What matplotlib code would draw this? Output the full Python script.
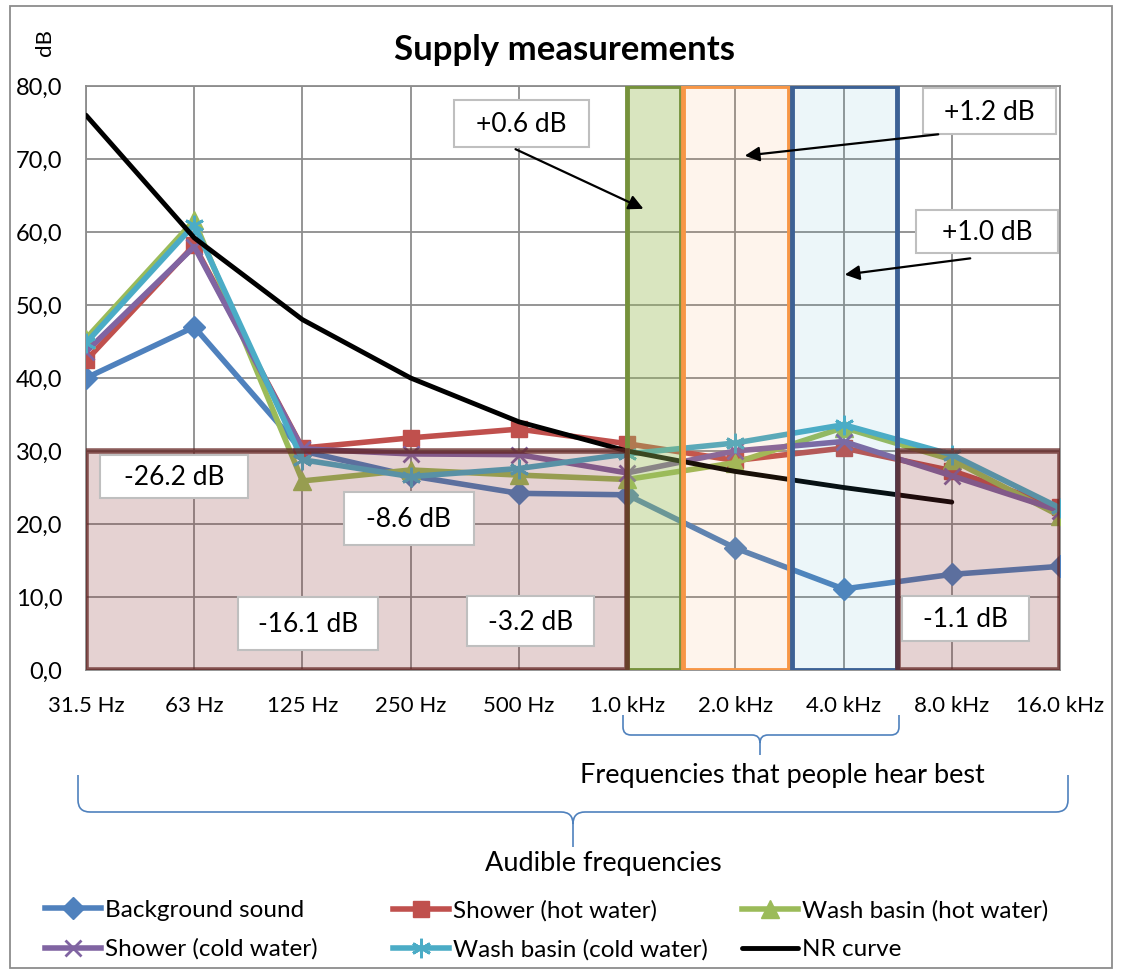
import matplotlib
matplotlib.use("Agg")
import matplotlib.pyplot as plt
from matplotlib.patches import Rectangle, PathPatch, FancyArrowPatch
from matplotlib.path import Path

plt.rcParams['font.family'] = ['Lato', 'DejaVu Sans']

W, H = 1122, 969

# data
freqs = ["31.5 Hz", "63 Hz", "125 Hz", "250 Hz", "500 Hz", "1.0 kHz", "2.0 kHz", "4.0 kHz", "8.0 kHz", "16.0 kHz"]
background = [40.0, 47.0, 30.0, 26.6, 24.2, 24.0, 16.7, 11.1, 13.1, 14.2]
shower_hot = [42.4, 58.2, 30.4, 31.8, 33.0, 31.0, 28.7, 30.4, 27.3, 22.3]
wash_hot = [45.4, 61.6, 25.9, 27.4, 26.7, 26.1, 28.4, 33.2, 28.8, 21.1]
shower_cold = [43.6, 58.0, 30.3, 29.6, 29.5, 27.0, 30.0, 31.3, 26.6, 21.8]
wash_cold = [44.8, 61.0, 28.8, 26.5, 27.6, 29.6, 31.1, 33.6, 29.5, 22.2]
nr_curve = [76.0, 59.2, 48.0, 40.0, 34.0, 30.0, 27.2, 25.0, 23.0]

# regions (x in category index, y in dB)
reduce_regions = [(0, 5, 30), (7.5, 9, 30)]
reduce_labels = ["-26.2 dB", "-8.6 dB", "-16.1 dB", "-3.2 dB", "-1.1 dB"]
gain_labels = ["+0.6 dB", "+1.2 dB", "+1.0 dB"]


def fx(x):
    return x / W


def fy(y):
    return 1 - y / H


fig = plt.figure(figsize=(W / 100, H / 100), dpi=100)
ax = fig.add_axes([fx(86), fy(670), fx(1060) - fx(86), fy(86) - fy(670)])

xs = list(range(len(freqs)))
series = [
    (background, "Background sound", "#4F81BD", "D", 11, dict()),
    (shower_hot, "Shower (hot water)", "#C0504D", "s", 12, dict()),
    (wash_hot, "Wash basin (hot water)", "#9BBB59", "^", 13, dict()),
    (shower_cold, "Shower (cold water)", "#8064A2", "x", 12, dict(markeredgewidth=2)),
    (wash_cold, "Wash basin (cold water)", "#4BACC6", (6, 2, 0), 14, dict(markeredgewidth=2)),
]
handles = {}
for vals, name, col, mk, ms, kw in series:
    ln, = ax.plot(xs, vals, color=col, lw=4, marker=mk, ms=ms, mfc=col, mec=col, label=name, zorder=3, **kw)
    handles[name] = ln

nr, = ax.plot(xs[:len(nr_curve)], nr_curve, color="black", lw=3.5, label="NR curve", zorder=4,
              solid_capstyle="round")
handles["NR curve"] = nr

ax.set_xlim(0, 9)
ax.set_ylim(0, 80)
ax.set_xticks(xs)
ax.set_xticklabels(freqs, fontsize=16)
ax.set_yticks(range(0, 81, 10))
ax.set_yticklabels([f"{v:.1f}".replace(".", ",") for v in range(0, 81, 10)], fontsize=17)
ax.tick_params(length=0)
ax.tick_params(axis="x", pad=19)
ax.tick_params(axis="y", pad=17)
ax.grid(True, color="#8C8C8C", lw=1.3, zorder=1)
for s in ax.spines.values():
    s.set_color("#8C8C8C")
    s.set_linewidth(1.3)

# highlighted frequency bands (drawn over the lines)
ax.add_patch(Rectangle((5, 0), 0.5, 80, facecolor="#9BBB59", alpha=0.38, edgecolor="none", zorder=5))
ax.add_patch(Rectangle((5, 0), 0.5, 80, facecolor="none", edgecolor="#76923C", lw=3.5, zorder=6))
ax.add_patch(Rectangle((5.52, 0), 0.98, 80, facecolor="#F79646", alpha=0.1, edgecolor="none", zorder=5))
ax.add_patch(Rectangle((5.52, 0), 0.98, 80, facecolor="none", edgecolor="#F79646", lw=3.5, zorder=6))
ax.add_patch(Rectangle((6.52, 0), 0.97, 80, facecolor="#4BACC6", alpha=0.1, edgecolor="none", zorder=5))
ax.add_patch(Rectangle((6.52, 0), 0.97, 80, facecolor="none", edgecolor="#3C6195", lw=3.5, zorder=6))
for x0, x1, top in reduce_regions:
    ax.add_patch(Rectangle((x0, 0), x1 - x0, top, facecolor="#8B3333", alpha=0.22, edgecolor="none", zorder=5))
    ax.add_patch(Rectangle((x0, 0), x1 - x0, top, facecolor="none", edgecolor="#632523", alpha=0.75,
                           lw=4, zorder=6))


def box(x0, y0, x1, y1, text):
    fig.patches.append(Rectangle((fx(x0), fy(y1)), fx(x1) - fx(x0), fy(y0) - fy(y1), transform=fig.transFigure,
                                 facecolor="white", edgecolor="#BFBFBF", lw=1.5, zorder=10))
    fig.text(fx((x0 + x1) / 2), fy((y0 + y1) / 2 + 1), text, ha="center", va="center", fontsize=19, zorder=11)


def arrow(x0, y0, x1, y1):
    fig.add_artist(FancyArrowPatch((fx(x0), fy(y0)), (fx(x1), fy(y1)), transform=fig.transFigure,
                                   arrowstyle="-|>", mutation_scale=22, color="black", lw=1.6, zorder=12))


box(454, 100, 589, 147, gain_labels[0])
arrow(513, 148, 646, 210)
box(923, 88, 1056, 134, gain_labels[1])
arrow(941, 134, 742, 156)
box(916, 210, 1058, 253, gain_labels[2])
arrow(973, 258, 842, 275)

box(100, 455, 248, 498, reduce_labels[0])
box(344, 492, 474, 545, reduce_labels[1])
box(238, 597, 378, 650, reduce_labels[2])
box(467, 596, 594, 646, reduce_labels[3])
box(902, 596, 1029, 641, reduce_labels[4])


def brace(x0, x1, xt, ytop, ymid, ytip, r):
    P = [(x0, ytop), (x0, ymid - r), (x0, ymid), (x0 + r, ymid),
         (xt - r, ymid), (xt, ymid), (xt, ymid + r), (xt, ytip),
         (xt, ymid + r), (xt, ymid), (xt + r, ymid),
         (x1 - r, ymid), (x1, ymid), (x1, ymid - r), (x1, ytop)]
    C = [Path.MOVETO, Path.LINETO, Path.CURVE3, Path.CURVE3,
         Path.LINETO, Path.CURVE3, Path.CURVE3, Path.LINETO,
         Path.MOVETO, Path.CURVE3, Path.CURVE3,
         Path.LINETO, Path.CURVE3, Path.CURVE3, Path.LINETO]
    pts = [(fx(a), fy(b)) for a, b in P]
    fig.patches.append(PathPatch(Path(pts, C), transform=fig.transFigure, facecolor="none",
                                 edgecolor="#4F81BD", lw=1.2))


brace(623, 899, 760, 715, 735, 755, 8)
fig.text(fx(782), fy(776), "Frequencies that people hear best", ha="center", va="center", fontsize=19.5)
brace(78, 1068, 573, 775, 812, 847, 12)
fig.text(fx(603), fy(863), "Audible frequencies", ha="center", va="center", fontsize=19.5)

fig.text(fx(565), fy(50), "Supply measurements", ha="center", va="center", fontsize=25, fontweight="bold")
fig.text(fx(45), fy(42), "dB", ha="center", va="center", fontsize=16, rotation=90)

# legend: three columns, placed separately
legend_cols = [["Background sound", "Shower (cold water)"],
               ["Shower (hot water)", "Wash basin (cold water)"],
               ["Wash basin (hot water)", "NR curve"]]
for names, xleft in zip(legend_cols, [45, 393, 742]):
    fig.legend([handles[k] for k in names], names, loc="center left", bbox_to_anchor=(fx(xleft), fy(930)),
               frameon=False, fontsize=17.5, handlelength=2.3, handletextpad=0.15, labelspacing=0.72,
               borderpad=0, borderaxespad=0)

# outer chart border
fig.patches.append(Rectangle((fx(10), fy(968)), fx(1112) - fx(10), fy(6) - fy(968), transform=fig.transFigure,
                             facecolor="none", edgecolor="#8C8C8C", lw=1.3))

fig.savefig("out.png", dpi=100)
